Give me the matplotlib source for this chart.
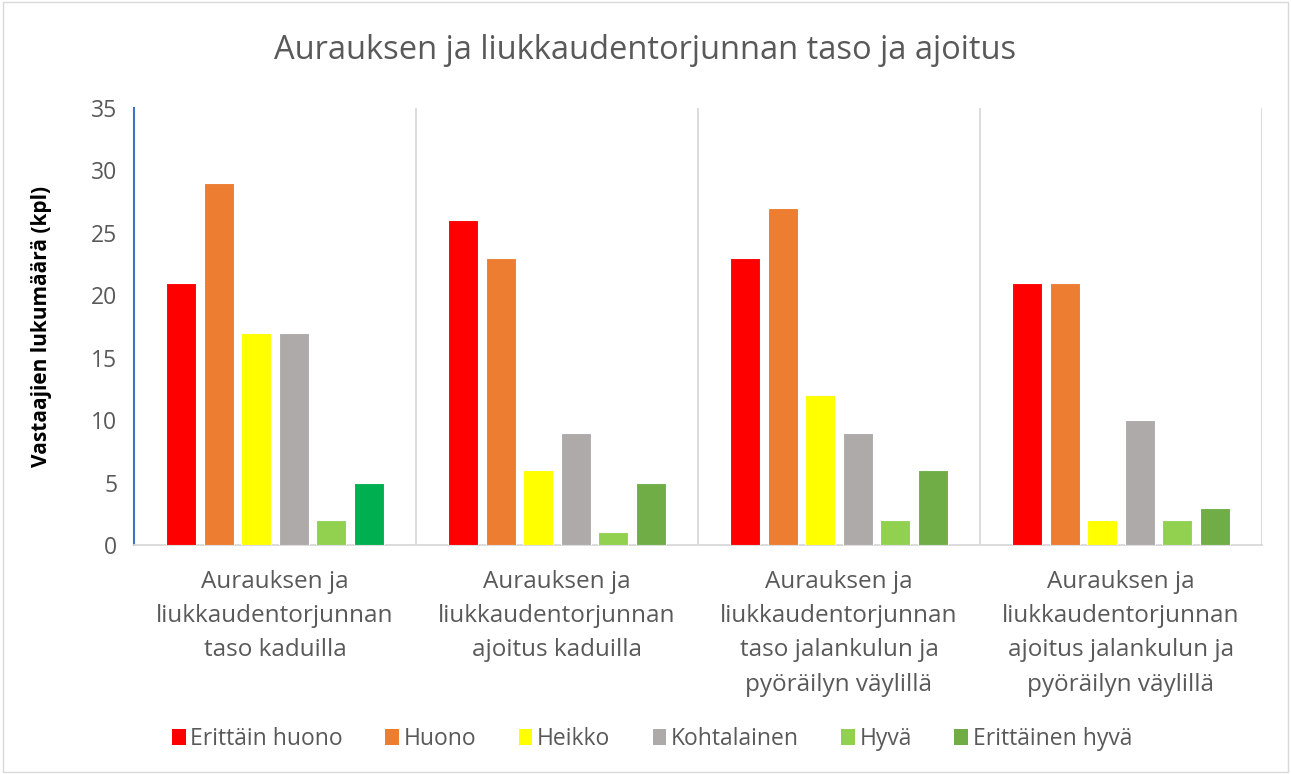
import matplotlib.pyplot as plt
import numpy as np
from matplotlib.patches import Rectangle, Patch

plt.rcParams['font.family'] = ['Open Sans', 'DejaVu Sans']

categories = ['Aurauksen ja\nliukkaudentorjunnan\ntaso kaduilla',
              'Aurauksen ja\nliukkaudentorjunnan\najoitus kaduilla',
              'Aurauksen ja\nliukkaudentorjunnan\ntaso jalankulun ja\npyöräilyn väylillä',
              'Aurauksen ja\nliukkaudentorjunnan\najoitus jalankulun ja\npyöräilyn väylillä']
series_names = ['Erittäin huono', 'Huono', 'Heikko', 'Kohtalainen', 'Hyvä', 'Erittäinen hyvä']
erittain_huono = [21, 26, 23, 21]
huono = [29, 23, 27, 21]
heikko = [17, 6, 12, 2]
kohtalainen = [17, 9, 9, 10]
hyva = [2, 1, 2, 2]
erittainen_hyva = [5, 5, 6, 3]
values = [erittain_huono, huono, heikko, kohtalainen, hyva, erittainen_hyva]
colors = ['#FF0000', '#ED7D31', '#FFFF00', '#AEAAAA', '#92D050', '#70AD47']
# first group's last bar uses a brighter green in the original
first_group_green = '#00B050'

fig = plt.figure(figsize=(12.91, 7.74), dpi=100)
ax = fig.add_axes([0.1038, 0.2959, 0.8737, 0.5646])

x = np.arange(len(categories))
step = 0.133
width = 0.106
for i, (name, vals, col) in enumerate(zip(series_names, values, colors)):
    cols = [col] * len(vals)
    if i == len(series_names) - 1:
        cols[0] = first_group_green
    ax.bar(x + (i - 2.5) * step, vals, width, color=cols, edgecolor='white',
           linewidth=0.8, zorder=3)

ax.set_xlim(-0.5, len(categories) - 0.5)
ax.set_ylim(0, 35)
ax.set_yticks(range(0, 36, 5))
ax.set_xticks(x)
ax.set_xticklabels(categories, fontsize=17.5, color='#595959', linespacing=1.57)
ax.set_xticks(np.arange(-0.5, len(categories)), minor=True)
ax.grid(which='minor', axis='x', color='#D9D9D9', linewidth=1.3, zorder=0)
ax.tick_params(axis='both', which='both', length=0)
ax.tick_params(axis='y', labelsize=16.5, labelcolor='#595959', pad=12)
ax.tick_params(axis='x', pad=18)

for s in ['top', 'right']:
    ax.spines[s].set_visible(False)
ax.spines['left'].set_color('#4472C4')
ax.spines['left'].set_linewidth(1.5)
ax.spines['bottom'].set_color('#D9D9D9')
ax.spines['bottom'].set_linewidth(1.3)

ax.set_ylabel('Vastaajien lukumäärä (kpl)', fontsize=15, fontweight='bold',
              color='black', labelpad=28)
fig.text(0.5, 0.935, 'Aurauksen ja liukkaudentorjunnan taso ja ajoitus',
         ha='center', va='center', fontsize=23.5, color='#595959')

handles = [Patch(facecolor=c, label=n) for n, c in zip(series_names, colors)]
leg = fig.legend(handles=handles, loc='center', bbox_to_anchor=(0.505, 0.045),
                 ncol=6, frameon=False, fontsize=16.5, handlelength=0.6,
                 handleheight=0.7, handletextpad=0.2, columnspacing=1.85)
for t in leg.get_texts():
    t.set_color('#595959')

fig.patches.append(Rectangle((0.002, 0.002), 0.996, 0.996, transform=fig.transFigure,
                             fill=False, edgecolor='#D9D9D9', linewidth=1))

fig.savefig('out.png', dpi=100)
